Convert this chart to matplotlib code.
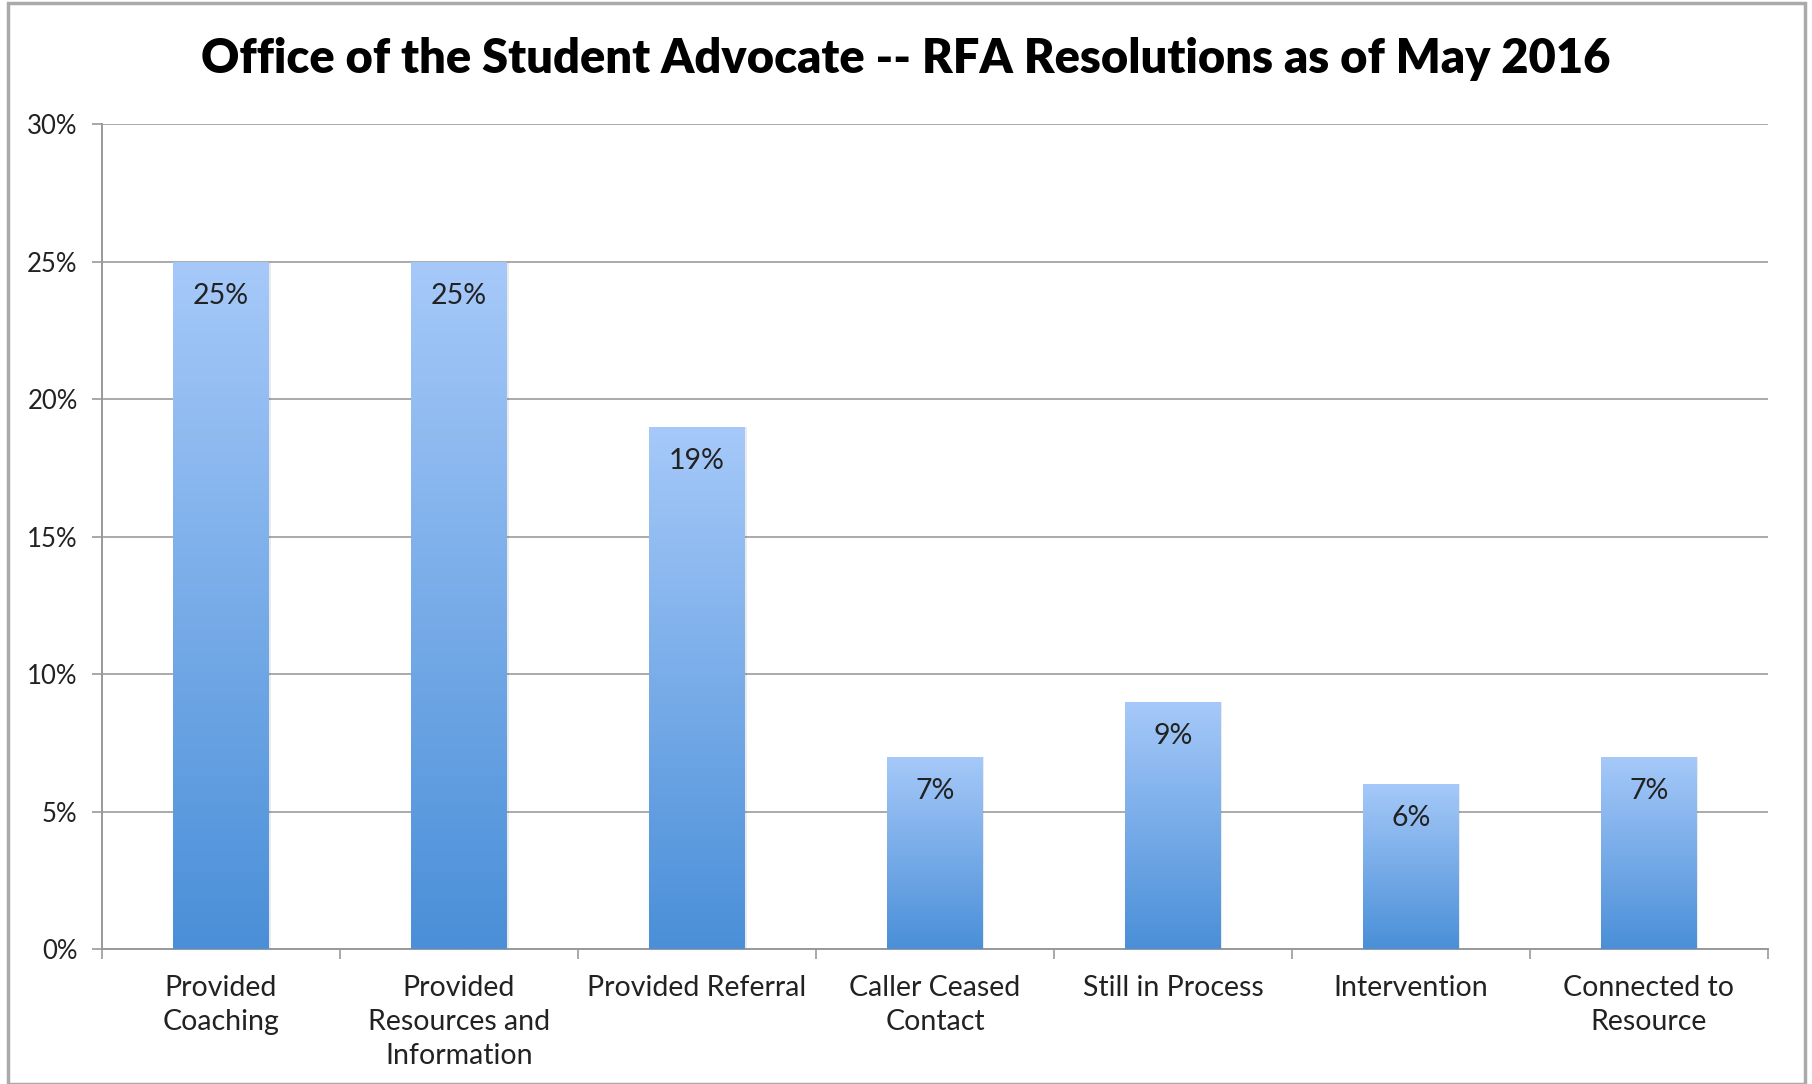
import numpy as np
import matplotlib
matplotlib.use("Agg")
import matplotlib.pyplot as plt
from matplotlib.patches import Rectangle
from matplotlib.colors import LinearSegmentedColormap

categories = ["Provided\nCoaching", "Provided\nResources and\nInformation", "Provided Referral",
              "Caller Ceased\nContact", "Still in Process", "Intervention", "Connected to\nResource"]
values = [25, 25, 19, 7, 9, 6, 7]
yticks = [0, 5, 10, 15, 20, 25, 30]
title = "Office of the Student Advocate -- RFA Resolutions as of May 2016"

plt.rcParams['font.family'] = ['Lato', 'DejaVu Sans']

fig = plt.figure(figsize=(18.12, 10.84), dpi=100)
ax = fig.add_axes([0.0563, 0.1245, 0.9194, 0.7611])

# bar gradient, light at top, darker at bottom
cmap = LinearSegmentedColormap.from_list("bargrad", ["#4a8fd8", "#a6c9f9"])
grad = np.linspace(0, 1, 256).reshape(-1, 1)

x = np.arange(len(categories))
bars = ax.bar(x, values, width=0.4, color="none", edgecolor="none", zorder=3)
for b, v in zip(bars, values):
    x0 = b.get_x()
    w = b.get_width()
    # faint shadow
    ax.add_patch(Rectangle((x0 + 0.008, 0), w, v, facecolor="#000000", alpha=0.08,
                           edgecolor="none", zorder=2.5))
    im = ax.imshow(grad, extent=[x0, x0 + w, 0, v], origin="lower", cmap=cmap,
                   aspect="auto", zorder=3, interpolation="bilinear")
    im.set_clip_path(b)
    ax.text(x0 + w / 2, v - 1.25, "%d%%" % v, ha="center", va="center",
            fontsize=20.5, color="#222222", zorder=4)

ax.set_xlim(-0.5, len(categories) - 0.5)
ax.set_ylim(0, 30)

ax.set_yticks(yticks)
ax.set_yticklabels(["%d%%" % t for t in yticks], fontsize=18.5, color="#222222")
ax.tick_params(axis="y", length=7, width=1.2, color="#999999", pad=10.5)

ax.set_xticks(x)
ax.set_xticklabels(categories, fontsize=20.5, color="#222222", linespacing=1.36)
ax.tick_params(axis="x", which="major", length=0, pad=19)
ax.set_xticks(np.arange(-0.5, len(categories)), minor=True)
ax.tick_params(axis="x", which="minor", length=7, width=1.2, color="#999999")

ax.yaxis.grid(True, color="#aaaaaa", linewidth=1.4, zorder=0)
ax.set_axisbelow(True)
for s in ["top", "right"]:
    ax.spines[s].set_visible(False)
for s in ["left", "bottom"]:
    ax.spines[s].set_color("#999999")
    ax.spines[s].set_linewidth(1.4)

fig.text(0.5, 0.946, title, ha="center", va="center", fontsize=33.8,
         fontweight="heavy", color="#000000")

fig.patches.append(Rectangle((0.0045, 0.0), 0.9915, 0.997, transform=fig.transFigure,
                             fill=False, edgecolor="#aaaaaa", linewidth=2.5))

fig.savefig("out.png", dpi=100)
